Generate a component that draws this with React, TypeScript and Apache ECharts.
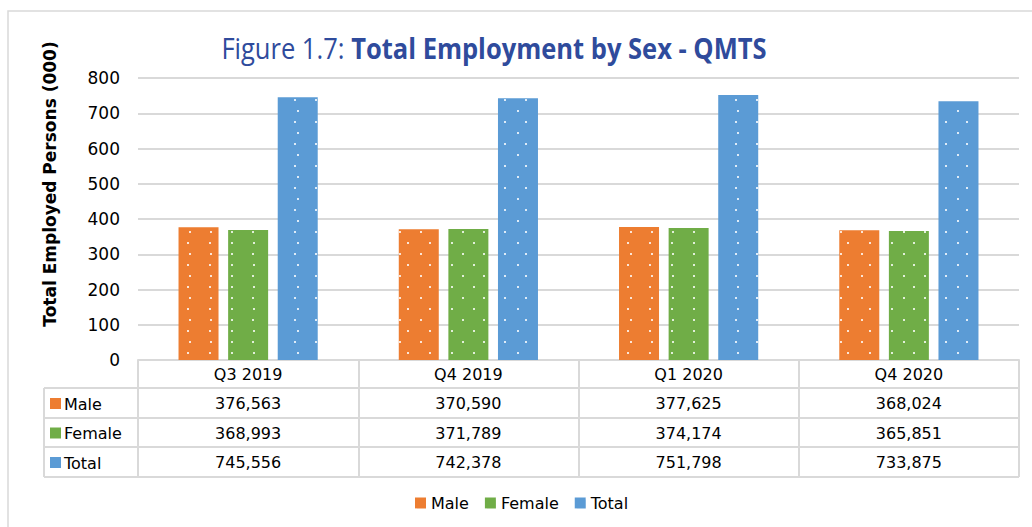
import React, { useEffect, useRef } from "react";
import * as echarts from "echarts";

const categories = ["Q3 2019", "Q4 2019", "Q1 2020", "Q4 2020"];
const male = [376563, 370590, 377625, 368024];
const female = [368993, 371789, 374174, 365851];
const total = [745556, 742378, 751798, 733875];
const seriesNames = ["Male", "Female", "Total"];
const seriesColors = ["#ED7D31", "#70AD47", "#5B9BD5"];
const yTicks = { min: 0, max: 800000, interval: 100000 };
const titleNormal = "Figure 1.7: ";
const titleBold = "Total Employment by Sex - QMTS";
const yTitle = "Total Employed Persons (000)";

const FONT = "DejaVu Sans";
const GRID_L = 138;
const GRID_R = 1019;
const AXIS_Y = 360;
const ROW_LINES = [388, 418, 447, 477];
const TABLE_L = 44;
const BORDER = "#D9D9D9";

const fmt = (v: number) => v.toLocaleString("en-US");

export default function App() {
  const ref = useRef<HTMLDivElement>(null);
  useEffect(() => {
    if (!ref.current) return;
    const chart = echarts.init(ref.current, undefined, { renderer: "svg" });
    const seriesData = [male, female, total];
    const decal = {
      symbol: "rect",
      symbolSize: 1,
      color: "rgba(255,255,255,0.8)",
      dashArrayX: [[2, 19], [0, 10.5, 2, 8.5]],
      dashArrayY: [2, 8.5],
    };
    const graphics: any[] = [
      {
        type: "rect",
        shape: { x: 8, y: 11, width: 1100, height: 600 },
        style: { fill: "none", stroke: "#D9D9D9", lineWidth: 1.5 },
        silent: true,
        z: -10,
      },
      {
        type: "text",
        x: 494,
        y: 48,
        scaleX: 0.88,
        style: {
          text: `{a|${titleNormal}}{b|${titleBold}}`,
          textAlign: "center",
          textVerticalAlign: "middle",
          rich: {
            a: { fontFamily: "Open Sans", fontSize: 29, fill: "#2F4B9C" },
            b: { fontFamily: "Open Sans", fontSize: 29, fontWeight: "bold", fill: "#2F4B9C" },
          },
        },
        silent: true,
      },
      {
        type: "text",
        x: 50,
        y: 184,
        rotation: Math.PI / 2,
        style: {
          text: yTitle,
          font: `bold 17px "${FONT}"`,
          fill: "#000",
          textAlign: "center",
          textVerticalAlign: "middle",
        },
        silent: true,
      },
    ];
    ROW_LINES.forEach((y) => {
      graphics.push({
        type: "line",
        shape: { x1: TABLE_L, y1: y, x2: GRID_R, y2: y },
        style: { stroke: BORDER, lineWidth: 2 },
        silent: true,
      });
    });
    graphics.push({
      type: "line",
      shape: { x1: TABLE_L, y1: ROW_LINES[0], x2: TABLE_L, y2: ROW_LINES[3] },
      style: { stroke: BORDER, lineWidth: 2 },
      silent: true,
    });
    seriesNames.forEach((name, i) => {
      const cy = (ROW_LINES[i] + ROW_LINES[i + 1]) / 2;
      graphics.push({
        type: "rect",
        shape: { x: 50, y: cy - 5, width: 11, height: 11 },
        style: { fill: seriesColors[i] },
        silent: true,
      });
      graphics.push({
        type: "text",
        x: 64,
        y: cy + 1,
        style: {
          text: name,
          font: `16px "${FONT}"`,
          fill: "#000",
          textVerticalAlign: "middle",
        },
        silent: true,
      });
    });

    chart.setOption({
      animation: false,
      legend: {
        data: seriesNames,
        left: 410,
        top: 490,
        icon: "rect",
        itemWidth: 11,
        itemHeight: 11,
        itemGap: 16,
        textStyle: { fontFamily: FONT, fontSize: 16, color: "#000" },
      },
      grid: {
        left: GRID_L,
        right: 1032 - GRID_R,
        top: 78,
        bottom: 527 - AXIS_Y,
        containLabel: false,
      },
      xAxis: {
        type: "category",
        data: categories,
        axisLine: { show: true, lineStyle: { color: BORDER, width: 2 } },
        axisTick: {
          show: true,
          length: ROW_LINES[3] - AXIS_Y,
          lineStyle: { color: BORDER, width: 2 },
        },
        axisLabel: {
          margin: 0,
          fontFamily: FONT,
          fontSize: 16,
          color: "#000",
          lineHeight: 29.3,
          formatter: (v: string, idx: number) =>
            [v, fmt(male[idx]), fmt(female[idx]), fmt(total[idx])].join("\n"),
        },
      },
      yAxis: {
        type: "value",
        min: yTicks.min,
        max: yTicks.max,
        interval: yTicks.interval,
        axisLine: { show: false },
        axisTick: { show: false },
        axisLabel: {
          margin: 18,
          fontFamily: FONT,
          fontSize: 17,
          color: "#000",
          formatter: (v: number) => String(v / 1000),
        },
        splitLine: { lineStyle: { color: BORDER, width: 2 } },
      },
      series: seriesNames.map((name, i) => ({
        name,
        type: "bar",
        data: seriesData[i],
        barWidth: 40,
        barGap: "24%",
        itemStyle: { color: seriesColors[i], decal },
      })),
      graphic: graphics,
    });
    return () => chart.dispose();
  }, []);
  return <div ref={ref} style={{ width: 1032, height: 527, position: "absolute", left: 0, top: 0 }} />;
}
